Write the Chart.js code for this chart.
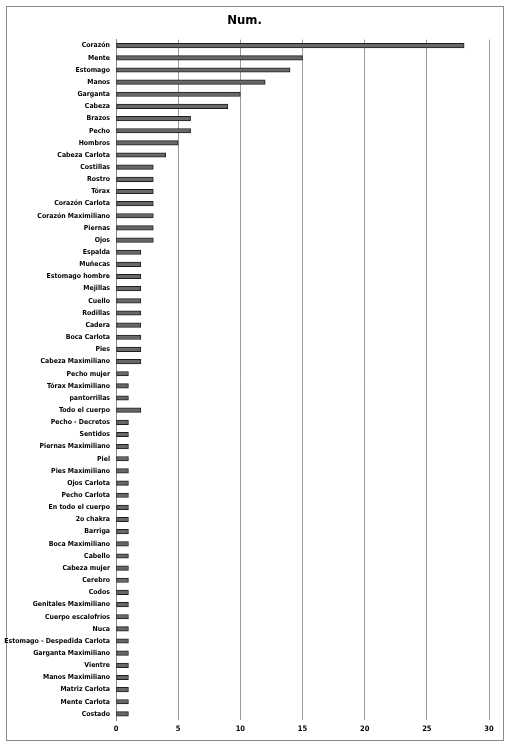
<!DOCTYPE html>
<html>
<head>
<meta charset="utf-8">
<script src="https://cdn.jsdelivr.net/npm/chart.js@4/dist/chart.umd.min.js"></script>
<style>
html,body{margin:0;padding:0;background:#fff;}
#wrap{position:absolute;left:0;top:0;width:511px;height:747px;}
</style>
</head>
<body>
<div id="wrap"><canvas id="c" width="511" height="747"></canvas></div>
<script>
const chartTitle = "Num.";
const categories = [
  "Corazón","Mente","Estomago","Manos","Garganta","Cabeza","Brazos","Pecho","Hombros","Cabeza Carlota",
  "Costillas","Rostro","Tórax","Corazón Carlota","Corazón Maximiliano","Piernas","Ojos","Espalda","Muñecas","Estomago hombre",
  "Mejillas","Cuello","Rodillas","Cadera","Boca Carlota","Pies","Cabeza Maximiliano","Pecho mujer","Tórax Maximiliano","pantorrillas",
  "Todo el cuerpo","Pecho - Decretos","Sentidos","Piernas Maximiliano","Piel","Pies Maximiliano","Ojos Carlota","Pecho Carlota","En todo el cuerpo","2o chakra",
  "Barriga","Boca Maximiliano","Cabello","Cabeza mujer","Cerebro","Codos","Genitales Maximiliano","Cuerpo escalofríos","Nuca","Estomago - Despedida Carlota",
  "Garganta Maximiliano","Vientre","Manos Maximiliano","Matriz Carlota","Mente Carlota","Costado"
];
const values = [
  28,15,14,12,10,9,6,6,5,4,
  3,3,3,3,3,3,3,2,2,2,
  2,2,2,2,2,2,2,1,1,1,
  2,1,1,1,1,1,1,1,1,1,
  1,1,1,1,1,1,1,1,1,1,
  1,1,1,1,1,1
];
const xMin = 0, xMax = 30, xStep = 5;

const FONT = "'Liberation Sans Narrow','DejaVu Sans Condensed','Liberation Sans',sans-serif";

const framePlugin = {
  id: 'frame',
  beforeDraw(chart) {
    const ctx = chart.ctx;
    ctx.save();
    ctx.fillStyle = '#fff';
    ctx.fillRect(0, 0, chart.width, chart.height);
    ctx.strokeStyle = '#8a8a8a';
    ctx.lineWidth = 1;
    ctx.strokeRect(6.5, 6.5, 497, 734);
    ctx.restore();
  }
};

new Chart(document.getElementById('c'), {
  type: 'bar',
  data: {
    labels: categories,
    datasets: [{
      label: chartTitle,
      data: values,
      backgroundColor: '#686868',
      borderColor: '#1e1e1e',
      borderWidth: 1,
      borderSkipped: false,
      barThickness: 4.5
    }]
  },
  options: {
    indexAxis: 'y',
    responsive: false,
    animation: false,
    devicePixelRatio: 1,
    layout: { padding: { left: 0, right: 22, top: 0, bottom: 0 } },
    plugins: {
      legend: { display: false },
      tooltip: { enabled: false },
      title: {
        display: true,
        text: chartTitle,
        color: '#000',
        font: { family: FONT, size: 13, weight: 'bold' },
        padding: { top: 13, bottom: 11 }
      }
    },
    scales: {
      x: {
        min: xMin, max: xMax,
        ticks: {
          stepSize: xStep,
          color: '#000',
          font: { family: FONT, size: 7.5, weight: 'bold' },
          padding: 5
        },
        grid: { color: '#9a9a9a', lineWidth: 1, drawTicks: false },
        border: { display: false },
        afterFit(scale) { scale.height = 27; }
      },
      y: {
        ticks: {
          autoSkip: false,
          color: '#000',
          font: { family: FONT, size: 6.9, weight: 'bold' },
          padding: 6
        },
        grid: { display: false, drawTicks: false },
        border: { display: true, color: '#8a8a8a', width: 1 },
        afterFit(scale) { scale.width = 116; }
      }
    }
  },
  plugins: [framePlugin]
});
</script>
</body>
</html>
